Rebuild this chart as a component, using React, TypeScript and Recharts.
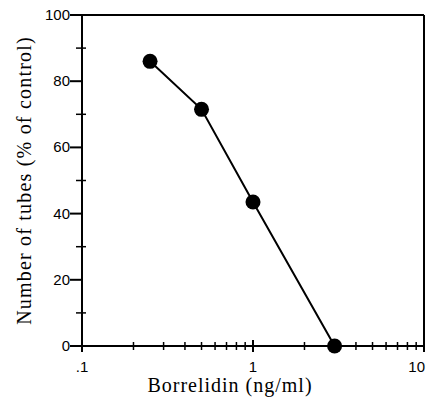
import React from "react";
import { LineChart, Line, XAxis, YAxis, ReferenceLine } from "recharts";

// Borrelidin dose (ng/ml) vs number of tubes (% of control)
const doses = [0.25, 0.5, 1, 3];
const tubes = [86, 71.5, 43.5, 0];

const xTicks = [0.1, 0.2, 0.3, 0.4, 0.5, 0.6, 0.7, 0.8, 0.9, 1, 2, 3, 4, 5, 6, 7, 8, 9, 10];
const xMajor = [0.1, 1, 10];
const xLabels = [".1", "1", "10"];

const yTicks = [0, 10, 20, 30, 40, 50, 60, 70, 80, 90, 100];
const yMajor = [0, 20, 40, 60, 80, 100];

const data = doses.map((d, i) => ({ dose: d, tubes: tubes[i] }));

const tickFont = "'Liberation Sans', Arial, sans-serif";
const labelFont = "'Liberation Serif', 'Times New Roman', serif";

const XTick = (props: any) => {
  const { x, y, payload } = props;
  const idx = xMajor.indexOf(payload.value);
  const major = idx >= 0;
  const last = idx === xMajor.length - 1;
  return (
    <g>
      <line x1={x} x2={x} y1={y - (major ? 6 : 4)} y2={y + (major ? 6 : 4)} stroke="#000" strokeWidth={major ? 2 : 1.5} />
      {major && (
        <text
          x={last ? x + 1 : x}
          y={y + 26}
          textAnchor={last ? "end" : "middle"}
          fontSize={15}
          fontFamily={tickFont}
          fill="#000"
        >
          {xLabels[idx]}
        </text>
      )}
    </g>
  );
};

const YTick = (props: any) => {
  const { x, y, payload } = props;
  const major = yMajor.includes(payload.value);
  return (
    <g>
      {major ? (
        <line x1={x - 12} x2={x} y1={y} y2={y} stroke="#000" strokeWidth={2} />
      ) : (
        <line x1={x - 6} x2={x + 4} y1={y} y2={y} stroke="#000" strokeWidth={1.5} />
      )}
      {major && (
        <text x={x - 12} y={y + 5} textAnchor="end" fontSize={15} fontFamily={tickFont} fill="#000">
          {payload.value}
        </text>
      )}
    </g>
  );
};

const YLabel = (props: any) => {
  const vb = props.viewBox;
  const cx = vb.x + 24;
  const cy = vb.y + vb.height / 2;
  return (
    <text
      x={cx}
      y={cy}
      transform={`rotate(-90 ${cx} ${cy})`}
      textAnchor="middle"
      dominantBaseline="central"
      fontSize={20}
      letterSpacing={1.2}
      fontFamily={labelFont}
      fill="#000"
    >
      Number of tubes (% of control)
    </text>
  );
};

const XLabel = (props: any) => {
  const vb = props.viewBox;
  return (
    <text
      x={vb.x + vb.width / 2 - 23}
      y={vb.y + 46}
      textAnchor="middle"
      fontSize={20}
      letterSpacing={1}
      fontFamily={labelFont}
      fill="#000"
    >
      Borrelidin (ng/ml)
    </text>
  );
};

export default function App() {
  return (
    <div style={{ position: "absolute", left: 0, top: 0, background: "#fff" }}>
      <LineChart width={426} height={401} data={data} margin={{ top: 15, right: 2, bottom: 0, left: 0 }}>
        <XAxis
          dataKey="dose"
          type="number"
          scale="log"
          domain={[0.1, 10]}
          ticks={xTicks}
          interval={0}
          height={55}
          tickSize={0}
          tickMargin={0}
          tickLine={false}
          tick={<XTick />}
          axisLine={{ stroke: "#000", strokeWidth: 2 }}
          allowDataOverflow
          label={{ content: <XLabel /> }}
        />
        <YAxis
          type="number"
          domain={[0, 100]}
          ticks={yTicks}
          interval={0}
          width={82}
          tickSize={0}
          tickMargin={0}
          tickLine={false}
          tick={<YTick />}
          axisLine={{ stroke: "#000", strokeWidth: 2 }}
          label={{ content: <YLabel /> }}
        />
        <ReferenceLine y={100} stroke="#000" strokeWidth={2} />
        <ReferenceLine x={10} stroke="#000" strokeWidth={2} />
        <Line
          dataKey="tubes"
          stroke="#000"
          strokeWidth={2}
          dot={{ r: 7.5, fill: "#000", stroke: "#000", strokeWidth: 0 }}
          isAnimationActive={false}
        />
      </LineChart>
    </div>
  );
}
